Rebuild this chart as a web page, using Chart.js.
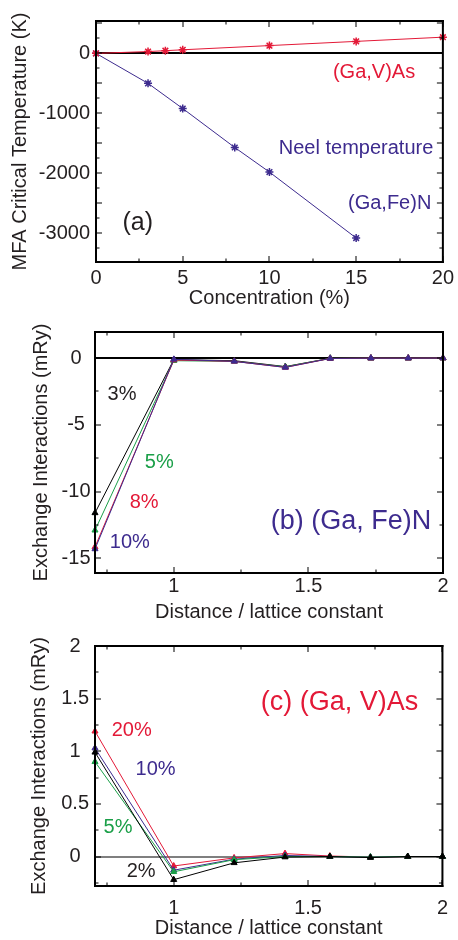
<!DOCTYPE html>
<html>
<head>
<meta charset="utf-8">
<script src="https://cdn.jsdelivr.net/npm/chart.js@4.4.1/dist/chart.umd.min.js"></script>
<style>
  html, body { margin: 0; padding: 0; background: #fff; }
  body { width: 458px; height: 940px; position: relative; overflow: hidden; }
  .wrap { position: absolute; left: 0; width: 458px; }
  .wrap canvas { position: absolute; left: 0; top: 0; }
  .wrap canvas.overlay { pointer-events: none; z-index: 2; }
</style>
</head>
<body>
<div class="wrap" style="top:0;height:312px">
  <canvas id="chartA" width="458" height="312"></canvas>
  <canvas id="frameA" class="overlay" width="458" height="312"></canvas>
</div>
<div class="wrap" style="top:312px;height:316px">
  <canvas id="chartB" width="458" height="316"></canvas>
  <canvas id="frameB" class="overlay" width="458" height="316"></canvas>
</div>
<div class="wrap" style="top:628px;height:312px">
  <canvas id="chartC" width="458" height="312"></canvas>
  <canvas id="frameC" class="overlay" width="458" height="312"></canvas>
</div>
<script>
// (a) MFA critical temperature vs. concentration
const concV = [0, 3, 4, 5, 10, 15, 20];
const tcV = [0, 30, 45, 60, 130, 200, 270];
const concFe = [0, 3, 5, 8, 10, 15];
const tcFe = [0, -500, -920, -1570, -1980, -3080];
const aXTicks = [0, 5, 10, 15, 20];
const aYTicks = [-3000, -2000, -1000, 0];

// (b), (c) exchange interactions vs. shell distance
const distances = [0.7071, 1, 1.2247, 1.4142, 1.5811, 1.7321, 1.8708, 2];
const feN3 = [-11.6, -0.12, -0.2, -0.64, -0.02, -0.01, -0.01, 0];
const feN5 = [-12.9, -0.2, -0.25, -0.66, -0.02, -0.01, -0.01, 0];
const feN8 = [-14.15, -0.15, -0.25, -0.7, -0.03, -0.01, -0.01, 0];
const feN10 = [-14.3, -0.1, -0.25, -0.7, -0.03, -0.01, -0.01, 0];
const vAs2 = [0.99, -0.22, -0.06, -0.005, 0, -0.01, 0, 0];
const vAs5 = [0.9, -0.145, -0.03, 0, 0, -0.005, 0, 0];
const vAs10 = [1.03, -0.13, -0.025, 0.01, 0, -0.005, 0, 0];
const vAs20 = [1.19, -0.09, -0.013, 0.028, 0.005, -0.005, 0, 0];
const distTicks = [1, 1.5, 2];
const bYTicks = [-15, -10, -5, 0];
const cYTicks = [0, 0.5, 1, 1.5, 2];

const family = '"Liberation Sans", Arial, Helvetica, sans-serif';
const ink = '#231f20';
const red = '#e31937';
const indigo = '#3d2b8e';
const green = '#1a9f48';
const black = '#000000';

const pts = (xs, ys) => xs.map((x, i) => ({ x: x, y: ys[i] }));

// zero line, drawn under the data
function zeroLine(width) {
  return {
    id: 'zeroLine',
    beforeDatasetsDraw(chart) {
      const { ctx, chartArea: a, scales: { y } } = chart;
      const y0 = Math.round(y.getPixelForValue(0));
      ctx.save();
      ctx.fillStyle = '#000';
      ctx.fillRect(a.left, y0 - width / 2, a.right - a.left, width);
      ctx.restore();
    }
  };
}

// box, inward ticks and in-plot labels, placed with the chart's own scales
function drawOverlay(chart, f, overlayId) {
  const xs = chart.scales.x, ys = chart.scales.y;
  const left = xs.getPixelForValue(xs.min);
  const right = xs.getPixelForValue(xs.max);
  const top = ys.getPixelForValue(ys.max);
  const bottom = ys.getPixelForValue(ys.min);
  const ov = document.getElementById(overlayId);
  const ctx = ov.getContext('2d');
  ctx.clearRect(0, 0, ov.width, ov.height);
  ctx.fillStyle = '#000';
  [[f.xMajor, 6], [f.xMinor, 3.5]].forEach(pair => {
    pair[0].forEach(v => {
      const px = Math.round(xs.getPixelForValue(v)) - 0.5;
      ctx.fillRect(px, bottom - pair[1], 1, pair[1]);
      ctx.fillRect(px, top, 1, pair[1]);
    });
  });
  [[f.yMajor, 6], [f.yMinor, 3.5]].forEach(pair => {
    pair[0].forEach(v => {
      const py = Math.round(ys.getPixelForValue(v)) - 0.5;
      ctx.fillRect(left, py, pair[1], 1);
      ctx.fillRect(right - pair[1], py, pair[1], 1);
    });
  });
  const w = right - left, h = bottom - top;
  ctx.fillRect(left - 1, top - 1, w + 2, 2);
  ctx.fillRect(left - 1, bottom - 1, w + 2, 2);
  ctx.fillRect(left - 1, top - 1, 2, h + 2);
  ctx.fillRect(right - 1, top - 1, 2, h + 2);

  ctx.textAlign = 'left';
  ctx.textBaseline = 'middle';
  f.labels.forEach(l => {
    ctx.fillStyle = l.color;
    ctx.font = l.size + 'px ' + family;
    ctx.fillText(l.text, xs.getPixelForValue(l.x), ys.getPixelForValue(l.y));
  });
}

function makeChart(id, overlayId, o) {
  const chart = new Chart(document.getElementById(id), {
    type: 'line',
    data: {
      datasets: o.datasets.map(d => ({
        data: d.data,
        borderColor: d.color,
        backgroundColor: d.color,
        borderWidth: 1,
        pointStyle: o.marker,
        pointRadius: o.marker === 'star' ? 4 : 3.5,
        pointBorderWidth: o.marker === 'star' ? 1.5 : 1,
        pointBackgroundColor: d.color,
        pointBorderColor: d.color,
        tension: 0,
        clip: false
      }))
    },
    options: {
      responsive: false,
      animation: false,
      events: [],
      layout: { padding: { top: o.padTop, right: 15, left: 0, bottom: 0 } },
      plugins: {
        legend: { display: false },
        tooltip: { enabled: false }
      },
      scales: {
        x: {
          type: 'linear', min: o.xMin, max: o.xMax,
          grid: { display: false, drawTicks: false, tickLength: 0 },
          border: { display: false },
          afterBuildTicks: s => { s.ticks = o.xTicks.map(v => ({ value: v })); },
          afterFit: s => { s.height = o.xAxisHeight; },
          ticks: {
            padding: o.xTickPad, color: ink, autoSkip: false, maxRotation: 0,
            font: { family: family, size: 20 },
            callback: v => String(v)
          },
          title: {
            display: true, text: o.xTitle, color: ink,
            font: { family: family, size: 20 },
            padding: { top: 0, bottom: o.xTitlePad }
          }
        },
        y: {
          type: 'linear', min: o.yMin, max: o.yMax,
          grid: { display: false, drawTicks: false, tickLength: 0 },
          border: { display: false },
          afterBuildTicks: s => { s.ticks = o.yTicks.map(v => ({ value: v })); },
          afterFit: s => { s.width = o.yAxisWidth; },
          ticks: {
            padding: o.yTickPad, color: ink, autoSkip: false,
            crossAlign: o.yAlign,
            font: { family: family, size: 20 },
            callback: v => String(v)
          },
          title: {
            display: true, text: o.yTitle, color: ink,
            font: { family: family, size: 20 },
            padding: { top: o.yTitlePad, bottom: 0 }
          }
        }
      }
    },
    plugins: [zeroLine(o.frame.zeroWidth)]
  });
  drawOverlay(chart, o.frame, overlayId);
  return chart;
}

makeChart('chartA', 'frameA', {
  marker: 'star',
  datasets: [
    { data: pts(concV, tcV), color: red },
    { data: pts(concFe, tcFe), color: indigo }
  ],
  padTop: 21, xAxisHeight: 50, yAxisWidth: 96,
  xMin: 0, xMax: 20, yMin: -3480, yMax: 540,
  xTicks: aXTicks, yTicks: aYTicks,
  xTickPad: 4, xTitlePad: 2, yTickPad: 6, yTitlePad: 8, yAlign: 'near',
  xTitle: 'Concentration (%)', yTitle: 'MFA Critical Temperature (K)',
  frame: {
    zeroWidth: 2,
    xMajor: aXTicks, xMinor: [2.5, 7.5, 12.5, 17.5],
    yMajor: [-3000, -2500, -2000, -1500, -1000, -500, 0, 500],
    yMinor: [-3250, -2750, -2250, -1750, -1250, -750, -250, 250],
    labels: [
      { text: '(Ga,V)As', x: 13.66, y: -320, color: red, size: 20 },
      { text: 'Neel temperature', x: 10.54, y: -1585, color: indigo, size: 20 },
      { text: '(Ga,Fe)N', x: 14.53, y: -2496, color: indigo, size: 20 },
      { text: '(a)', x: 1.53, y: -2833, color: ink, size: 25 }
    ]
  }
});

makeChart('chartB', 'frameB', {
  marker: 'triangle',
  datasets: [
    { data: pts(distances, feN10), color: indigo },
    { data: pts(distances, feN8), color: red },
    { data: pts(distances, feN5), color: green },
    { data: pts(distances, feN3), color: black }
  ],
  padTop: 20, xAxisHeight: 55, yAxisWidth: 95,
  xMin: 0.7071, xMax: 2, yMin: -16.1, yMax: 1.95,
  xTicks: distTicks, yTicks: bYTicks,
  xTickPad: 1, xTitlePad: 4, yTickPad: 4.5, yTitlePad: 29, yAlign: 'center',
  xTitle: 'Distance / lattice constant', yTitle: 'Exchange Interactions (mRy)',
  frame: {
    zeroWidth: 2,
    xMajor: distTicks, xMinor: [0.75, 1.25, 1.75],
    yMajor: bYTicks, yMinor: [-12.5, -7.5, -2.5],
    labels: [
      { text: '3%', x: 0.754, y: -2.73, color: ink, size: 20 },
      { text: '5%', x: 0.892, y: -7.86, color: green, size: 20 },
      { text: '8%', x: 0.836, y: -10.82, color: red, size: 20 },
      { text: '10%', x: 0.762, y: -13.83, color: indigo, size: 20 },
      { text: '(b) (Ga, Fe)N', x: 1.36, y: -12.24, color: indigo, size: 27 }
    ]
  }
});

makeChart('chartC', 'frameC', {
  marker: 'triangle',
  datasets: [
    { data: pts(distances, vAs2), color: black },
    { data: pts(distances, vAs5), color: green },
    { data: pts(distances, vAs10), color: indigo },
    { data: pts(distances, vAs20), color: red }
  ],
  padTop: 17, xAxisHeight: 54, yAxisWidth: 95,
  xMin: 0.7071, xMax: 2, yMin: -0.28, yMax: 2,
  xTicks: distTicks, yTicks: cYTicks,
  xTickPad: 10, xTitlePad: 0, yTickPad: 6, yTitlePad: 27, yAlign: 'center',
  xTitle: 'Distance / lattice constant', yTitle: 'Exchange Interactions (mRy)',
  frame: {
    zeroWidth: 1,
    xMajor: distTicks, xMinor: [0.75, 1.25, 1.75],
    yMajor: cYTicks, yMinor: [-0.25, 0.25, 0.75, 1.25, 1.75],
    labels: [
      { text: '(c) (Ga, V)As', x: 1.324, y: 1.465, color: red, size: 27 },
      { text: '20%', x: 0.769, y: 1.193, color: red, size: 20 },
      { text: '10%', x: 0.858, y: 0.83, color: indigo, size: 20 },
      { text: '5%', x: 0.739, y: 0.277, color: green, size: 20 },
      { text: '2%', x: 0.825, y: -0.144, color: ink, size: 20 }
    ]
  }
});
</script>
</body>
</html>
